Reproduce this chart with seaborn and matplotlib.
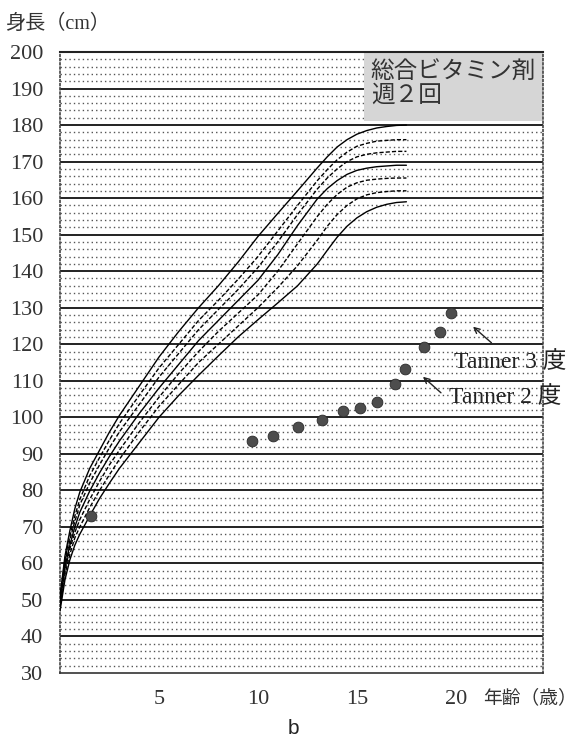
import numpy as np
import pandas as pd
import seaborn as sns
import matplotlib.pyplot as plt
from matplotlib.patches import Rectangle

# reference growth curves (height cm by age), top to bottom
ages = [0, 0.25, 0.5, 0.75, 1, 1.5, 2, 2.5, 3, 4, 5, 6, 7, 8, 9, 10, 11, 12, 13,
        13.5, 14, 14.5, 15, 15.5, 16, 16.5, 17, 17.5]
curve1 = [51, 62, 69, 75, 79.5, 86, 91, 96, 100.5, 108.5, 116.5, 123.5, 130, 136, 142.5, 149.5,
          155.8, 162, 168.3, 171.3, 174, 176, 177.5, 178.5, 179.2, 179.6, 179.9, 180]
curve2 = [50.5, 61, 67.5, 73, 77.5, 84, 89, 93.8, 98.3, 106, 113.5, 120, 126.5, 132, 137.8, 144,
          151, 158, 164.8, 167.8, 170.5, 172.6, 174.2, 175, 175.6, 175.8, 176, 176]
curve3 = [50, 60, 66.5, 71.5, 76, 82, 87, 91.7, 96, 103.5, 111, 117.5, 124, 129.5, 135, 141,
          148, 155.5, 162.5, 165.5, 168, 170, 171.3, 172, 172.4, 172.6, 172.8, 172.8]
curve4 = [49, 59, 65, 70, 74, 79.8, 84.8, 89.3, 93.5, 101, 108, 114.5, 121, 126.5, 132, 137.5,
          144.5, 152.5, 159.8, 162.6, 164.8, 166.5, 167.6, 168.2, 168.6, 168.8, 169, 169]
curve5 = [48.5, 58, 64, 68.5, 72, 77.5, 82.5, 87, 91, 98.5, 105.5, 112, 118, 123.5, 128.5, 133.5,
          140, 147.5, 155, 158.3, 161, 163, 164.2, 164.9, 165.2, 165.4, 165.5, 165.5]
curve6 = [48, 57, 62.5, 67, 70, 75.3, 80, 84.3, 88.5, 96, 103, 109, 115, 120, 125, 130,
          135.5, 141.5, 148.5, 152.3, 155.5, 158, 159.8, 160.9, 161.5, 161.8, 162, 162]
curve7 = [47, 55.5, 61, 65, 68, 73, 77.8, 82, 86, 93, 100, 106, 111.5, 116.8, 122, 126.7,
          131.3, 136, 142, 145.7, 149.3, 152.3, 154.6, 156.3, 157.5, 158.3, 158.8, 159]
curves = [curve1, curve2, curve3, curve4, curve5, curve6, curve7]
curve_kind = ['solid', 'dashed', 'dashed', 'solid', 'dashed', 'dashed', 'solid']

# patient measurements
pt_age = [1.57, 9.70, 10.76, 12.02, 13.23, 14.29, 15.15, 16.01, 16.92, 17.42, 18.38, 19.19, 19.75]
pt_height = [73.0, 93.6, 94.9, 97.4, 99.3, 101.8, 102.6, 104.2, 109.2, 113.3, 119.3, 123.4, 128.6]

yticks = list(range(30, 201, 10))
xticks = [5, 10, 15, 20]

sns.set_style('white')
plt.rcParams['font.family'] = ['Liberation Serif', 'Noto Sans CJK JP']

fig = plt.figure(figsize=(5.81, 7.41), dpi=100)
ax = fig.add_axes([60 / 581, 1 - 673 / 741, 483 / 581, 621 / 741])

# grid: solid every 10 cm, dotted every 2 cm
for h in range(32, 200, 2):
    if h % 10:
        ax.axhline(h, color='#555555', lw=1.0, ls=(0, (1, 2.2)), zorder=1)
for h in range(40, 200, 10):
    ax.axhline(h, color='#222222', lw=1.4, zorder=1)

rows = []
for i, c in enumerate(curves):
    for a, h in zip(ages, c):
        rows.append({'age': a, 'height': h, 'curve': f'c{i}', 'kind': curve_kind[i]})
df = pd.DataFrame(rows)
sns.lineplot(data=df, x='age', y='height', units='curve', estimator=None,
             style='kind', dashes={'solid': '', 'dashed': (3, 1.5)},
             color='black', lw=1.0, legend=False, ax=ax, zorder=3)

sns.scatterplot(x=pt_age, y=pt_height, s=60, color='#4d4d4d', edgecolor='#2a2a2a',
                linewidth=0.6, ax=ax, zorder=4)

# label box top right
ax.add_patch(Rectangle((15.35, 181), 24.4 - 15.35, 19, facecolor='#d6d6d6',
                       edgecolor='none', zorder=2))
ax.text(15.7, 197.5, '総合ビタミン剤\n週２回', fontsize=17, va='top', ha='left',
        family=['Noto Sans CJK JP'], color='#333333', linespacing=1.0, zorder=5)

# Tanner annotations
ax.annotate('', xy=(20.76, 125.3), xytext=(21.9, 119.9),
            arrowprops=dict(arrowstyle='->', lw=1.0, color='#222222'), zorder=5)
ax.annotate('', xy=(18.23, 111.6), xytext=(19.35, 106.2),
            arrowprops=dict(arrowstyle='->', lw=1.0, color='#222222'), zorder=5)
ax.text(19.9, 115.2, 'Tanner 3 度', fontsize=17, va='center', ha='left', color='#222222', zorder=5)
ax.text(19.65, 105.6, 'Tanner 2 度', fontsize=17, va='center', ha='left', color='#222222', zorder=5)

ax.set_xlim(0, 24.4)
ax.set_ylim(30, 200)
ax.set_yticks(yticks)
ax.set_yticklabels([str(t) for t in yticks], fontsize=16, color='#333333')
ax.set_xticks(xticks)
ax.set_xticklabels([str(t) for t in xticks], fontsize=16, color='#333333')
ax.tick_params(length=0, pad=12)
ax.set_xlabel('')
ax.set_ylabel('')

ax.spines['top'].set_linewidth(1.5)
ax.spines['top'].set_color('#222222')
ax.spines['bottom'].set_linewidth(1.2)
ax.spines['bottom'].set_color('#333333')
for s in ['left', 'right']:
    ax.spines[s].set_linestyle((0, (1, 1.5)))
    ax.spines[s].set_color('#444444')
    ax.spines[s].set_linewidth(1.2)

fig.text(0.008, 1 - 24 / 741, '身長（cm）', fontsize=14.5, va='center', ha='left', color='#333333')
fig.text(483 / 581, 1 - 698 / 741, '年齢（歳）', fontsize=13.5, va='center', ha='left', color='#333333')
fig.text(293 / 581, 1 - 729 / 741, 'b', fontsize=15, va='center', ha='center',
         family=['Liberation Sans'], color='#222222')

fig.savefig('out.png', dpi=100)
